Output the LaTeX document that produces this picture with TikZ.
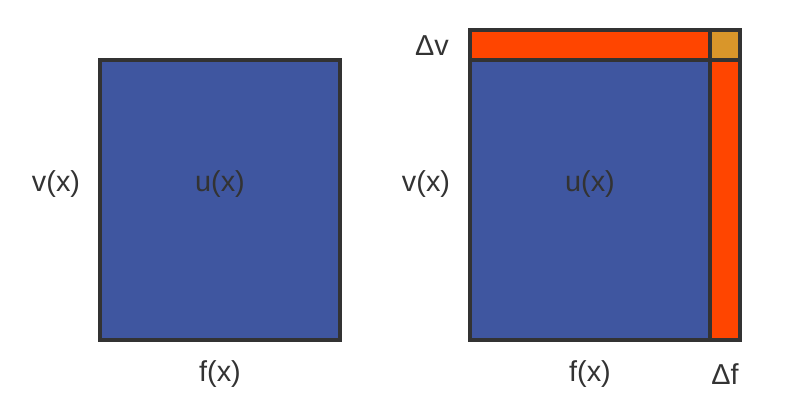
\documentclass[tikz,border=0pt]{standalone}
\usepackage{fontspec}
\setmainfont{Liberation Sans}
\usepackage{xcolor}
\usetikzlibrary{positioning}
\definecolor{areablue}{HTML}{3F56A0}
\definecolor{stripred}{HTML}{FF4500}
\definecolor{cornergold}{HTML}{D9962A}
\definecolor{edgegray}{HTML}{333333}
\tikzset{
  box/.style={draw=edgegray, line width=2.2pt},
  lbl/.style={text=edgegray, font=\fontsize{20.5}{24}\selectfont, inner sep=0pt}
}

\begin{document}
\begin{tikzpicture}[x=0.025cm,y=-0.025cm]
      \useasboundingbox (0,0) rectangle (800,400);
      % left square
      \fill[areablue] (100,60) rectangle (340,340);
      \draw[box] (100,60) rectangle (340,340);
      \node[lbl] (uL) at (220,184) {u(x)};
      \node[lbl] (vL) at (56,184) {v(x)};
      \node[lbl] (fL) at (220,374) {f(x)};
      % right square with strips
      \fill[areablue] (470,60) rectangle (710,340);
      \fill[stripred] (470,30) rectangle (710,60);
      \fill[stripred] (710,60) rectangle (740,340);
      \fill[cornergold] (710,30) rectangle (740,60);
      \draw[box] (470,30) rectangle (740,340);
      \draw[box] (470,60) -- (740,60);
      \draw[box] (710,30) -- (710,340);
      \node[lbl] (uR) at (590,184) {u(x)};
      \node[lbl] (vR) at (426,184) {v(x)};
      \node[lbl] (fR) at (590,374) {f(x)};
      \node[lbl] (dv) at (432,46) {Δv};
      \node[lbl] (df) at (725,374) {Δf};
\end{tikzpicture}
\end{document}
